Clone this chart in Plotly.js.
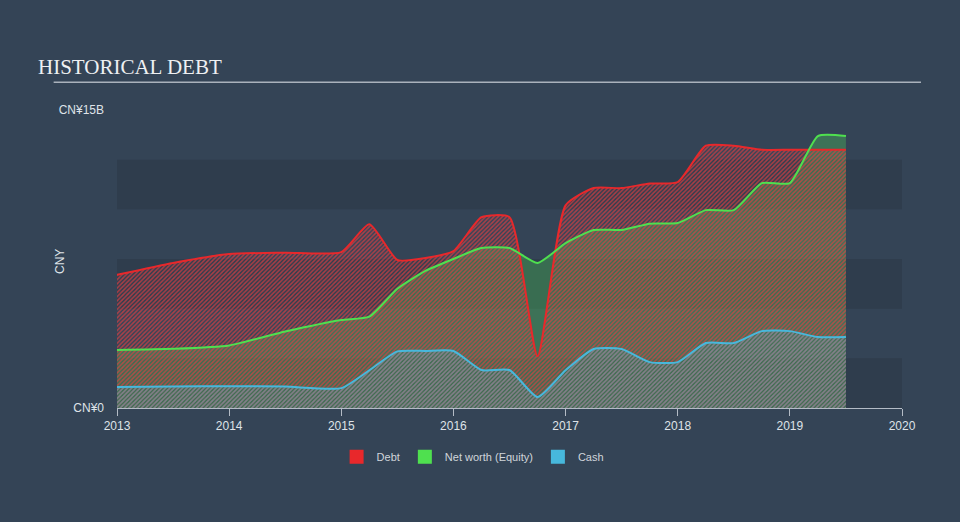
<!DOCTYPE html>
<html>
<head>
<meta charset="utf-8">
<script src="https://cdn.plot.ly/plotly-3.0.1.min.js"></script>
<style>
html,body{margin:0;padding:0;background:#344456;}
#chart{width:960px;height:522px;}
</style>
</head>
<body>
<div id="chart"></div>
<script>
// Values in CN¥ billions, x in decimal years
var debtX   = [2013.0, 2013.5, 2014.0, 2014.5, 2015.0, 2015.25, 2015.5, 2015.75, 2016.0, 2016.25, 2016.5, 2016.75, 2017.0, 2017.25, 2017.5, 2017.75, 2018.0, 2018.25, 2018.5, 2018.75, 2019.0, 2019.25, 2019.5];
var debtY   = [6.7,    7.3,    7.75,   7.82,   7.85,   9.25,    7.45,   7.55,    7.9,    9.6,     9.6,    2.6,     10.2,   11.07,   11.07,  11.3,    11.37,  13.2,    13.2,   13.0,    13.0,   13.0,    13.0];

var equityX = [2013.0, 2013.5, 2014.0, 2014.5, 2015.0, 2015.25, 2015.5, 2015.75, 2016.0, 2016.25, 2016.5, 2016.75, 2017.0, 2017.25, 2017.5, 2017.75, 2018.0, 2018.25, 2018.5, 2018.75, 2019.0, 2019.25, 2019.5];
var equityY = [2.92,   2.98,   3.15,   3.85,   4.43,   4.6,     6.0,    6.9,     7.5,    8.05,    8.05,   7.3,     8.3,    8.96,    8.96,   9.28,    9.31,   9.96,    9.96,   11.32,   11.32,  13.69,   13.69];

var cashX   = [2013.0, 2013.5, 2014.0, 2014.5, 2015.0, 2015.25, 2015.5, 2015.75, 2016.0, 2016.25, 2016.5, 2016.75, 2017.0, 2017.25, 2017.5, 2017.75, 2018.0, 2018.25, 2018.5, 2018.75, 2019.0, 2019.25, 2019.5];
var cashY   = [1.06,   1.08,   1.1,    1.08,   1.0,    1.9,     2.85,   2.87,    2.87,   1.91,    1.91,   0.55,    1.9,    2.97,    2.97,   2.31,    2.31,   3.27,    3.27,   3.87,    3.87,   3.57,    3.57];

var yearTicks = [2013, 2014, 2015, 2016, 2017, 2018, 2019, 2020];
var yTickVals = [0, 15];
var yTickText = ['CN¥0', 'CN¥15B'];
var bandEdges = [[0, 2.5], [5, 7.5], [10, 12.5]];

var seriesNames = ['Debt', 'Net worth (Equity)', 'Cash'];
var lineColors = ['#e8282b', '#4fe04f', '#47b8dc'];
var SM = 0.55;

var traces = [
  // fills
  {x: equityX, y: equityY, type: 'scatter', mode: 'lines', fill: 'tozeroy',
   line: {width: 0, shape: 'spline', smoothing: SM, color: lineColors[1]},
   fillcolor: 'rgba(80,210,90,0.32)', showlegend: false, hoverinfo: 'skip'},
  {x: debtX, y: debtY, type: 'scatter', mode: 'lines', fill: 'tozeroy',
   line: {width: 0, shape: 'spline', smoothing: SM, color: lineColors[0]},
   fillcolor: 'rgba(0,0,0,0)',
   fillpattern: {shape: '/', fgcolor: 'rgba(232,62,66,0.68)', bgcolor: 'rgba(0,0,0,0)', size: 3, solidity: 0.5},
   showlegend: false, hoverinfo: 'skip'},
  {x: cashX, y: cashY, type: 'scatter', mode: 'lines', fill: 'tozeroy',
   line: {width: 0, shape: 'spline', smoothing: SM, color: lineColors[2]},
   fillcolor: 'rgba(0,0,0,0)',
   fillpattern: {shape: '/', fgcolor: 'rgba(80,185,215,0.5)', bgcolor: 'rgba(0,0,0,0)', size: 3, solidity: 0.5},
   showlegend: false, hoverinfo: 'skip'},
  // lines
  {x: debtX, y: debtY, type: 'scatter', mode: 'lines', line: {width: 2, shape: 'spline', smoothing: SM, color: lineColors[0]}, showlegend: false},
  {x: equityX, y: equityY, type: 'scatter', mode: 'lines', line: {width: 2, shape: 'spline', smoothing: SM, color: lineColors[1]}, showlegend: false},
  {x: cashX, y: cashY, type: 'scatter', mode: 'lines', line: {width: 2, shape: 'spline', smoothing: SM, color: lineColors[2]}, showlegend: false}
];
// legend entries
for (var i = 0; i < 3; i++) {
  traces.push({x: [null], y: [null], type: 'scatter', mode: 'markers', name: seriesNames[i],
    marker: {symbol: 'square', size: 14, color: lineColors[i]}, showlegend: true});
}

var shapes = bandEdges.map(function (b) {
  return {type: 'rect', xref: 'x', yref: 'y', x0: yearTicks[0], x1: yearTicks[yearTicks.length - 1], y0: b[0], y1: b[1],
    fillcolor: 'rgba(30,40,52,0.25)', line: {width: 0}, layer: 'below'};
});
shapes.push({type: 'line', xref: 'paper', yref: 'paper', x0: -0.0807, x1: 1.0242, y0: 1.0933, y1: 1.0933,
  line: {color: '#aab2bc', width: 1.5}});

var layout = {
  width: 960, height: 522,
  paper_bgcolor: '#344456', plot_bgcolor: 'rgba(0,0,0,0)',
  margin: {l: 117, r: 58, t: 110, b: 114},
  font: {family: 'Liberation Sans, Arial, sans-serif', color: '#d8dde3', size: 12},
  title: {text: 'HISTORICAL DEBT', x: 38 / 960, xanchor: 'left', y: 1 - 67 / 522, yanchor: 'middle',
    font: {family: 'Liberation Serif, Times New Roman, serif', size: 21, color: '#eef0f2'}},
  xaxis: {range: [2013, 2020], tickvals: yearTicks, ticktext: yearTicks.map(String), showgrid: false, zeroline: false,
    showline: true, linecolor: '#b4bcc6', linewidth: 1, ticks: 'outside', ticklen: 7, tickcolor: '#b4bcc6',
    tickfont: {size: 12, color: '#dfe3e8'}, fixedrange: true},
  yaxis: {range: [0, 15], tickvals: yTickVals, ticktext: yTickText, showgrid: false, zeroline: false,
    showline: false, ticks: '', ticklabelstandoff: 12, tickfont: {size: 12, color: '#dfe3e8'}, fixedrange: true},
  annotations: [{text: 'CNY', xref: 'paper', yref: 'paper', x: -0.0726, y: 0.49, textangle: -90,
    showarrow: false, xanchor: 'center', yanchor: 'middle', font: {size: 12, color: '#dfe3e8'}}],
  legend: {orientation: 'h', x: 0.453, xanchor: 'center', y: -0.164, yanchor: 'middle',
    font: {size: 11, color: '#d0d5db'}, bgcolor: 'rgba(0,0,0,0)'},
  shapes: shapes,
  showlegend: true
};

Plotly.newPlot('chart', traces, layout, {displayModeBar: false, staticPlot: true});
</script>
</body>
</html>
